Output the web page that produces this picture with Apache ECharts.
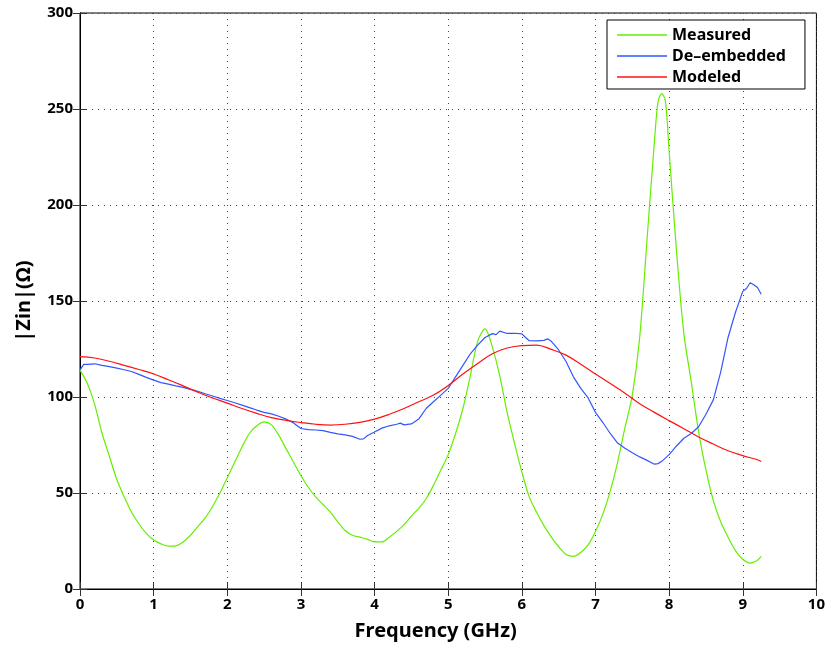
<!DOCTYPE html>
<html>
<head>
<meta charset="utf-8">
<script src="https://cdn.jsdelivr.net/npm/echarts@6/dist/echarts.min.js"></script>
<style>
  html, body { margin: 0; padding: 0; background: #fff; }
  #chart { width: 828px; height: 646px; }
</style>
</head>
<body>
<div id="chart"></div>
<script>
// Measured |Zin| (green)
var freqMeasured = [0, 0.1, 0.2, 0.3, 0.4, 0.5, 0.6, 0.7, 0.8, 0.9,
  1.0, 1.1, 1.2, 1.3, 1.4, 1.5, 1.6, 1.7, 1.8, 1.9,
  2.0, 2.1, 2.2, 2.3, 2.4, 2.5, 2.6, 2.7, 2.8, 2.9,
  3.0, 3.1, 3.2, 3.3, 3.4, 3.5, 3.6, 3.7, 3.8, 3.9,
  4.0, 4.1, 4.2, 4.3, 4.4, 4.5, 4.6, 4.7, 4.8, 4.9,
  5.0, 5.1, 5.2, 5.3, 5.4, 5.5, 5.6, 5.7, 5.8, 5.9,
  6.0, 6.1, 6.2, 6.3, 6.4, 6.5, 6.6, 6.7, 6.8, 6.9,
  7.0, 7.1, 7.2, 7.3, 7.4, 7.5, 7.6, 7.7, 7.8, 7.85, 7.9, 7.95,
  8.0, 8.1, 8.2, 8.3, 8.4, 8.5, 8.6, 8.7, 8.8, 8.9,
  9.0, 9.1, 9.2, 9.25];
var measured = [114, 107, 96, 81, 69, 57, 48, 40, 34, 29,
  25.5, 23.5, 22.3, 22.5, 24.5, 28, 32.5, 37, 43, 50,
  58, 66, 74, 81, 85, 87, 85.5, 80, 73, 66,
  59, 53, 48, 44, 40, 35, 30.5, 28, 27, 26,
  24.5, 24.5, 27, 30, 33.5, 38, 42, 47, 54, 62,
  70, 81, 94, 111, 129, 135.5, 126, 111, 92, 76,
  61, 48, 40, 33, 27, 22, 18, 17, 19, 23,
  30, 39, 51, 66, 84, 101, 131, 182, 233, 254, 258, 254,
  228, 176, 133, 108, 82, 62, 46, 35, 27, 20,
  15.5, 13.5, 15, 17];

// De-embedded |Zin| (blue)
var freqDeembedded = [0, 0.05, 0.1, 0.2, 0.3, 0.4, 0.5, 0.6, 0.7, 0.8, 0.9,
  1.0, 1.1, 1.2, 1.3, 1.4, 1.5, 1.6, 1.7, 1.8, 1.9,
  2.0, 2.1, 2.2, 2.3, 2.4, 2.5, 2.6, 2.7, 2.8, 2.9,
  3.0, 3.1, 3.2, 3.3, 3.4, 3.5, 3.6, 3.7, 3.8, 3.85, 3.9,
  4.0, 4.1, 4.2, 4.3, 4.35, 4.4, 4.5, 4.6, 4.7, 4.8, 4.9,
  5.0, 5.1, 5.2, 5.3, 5.4, 5.5, 5.6, 5.65, 5.7, 5.8, 5.9,
  6.0, 6.05, 6.1, 6.2, 6.3, 6.35, 6.4, 6.5, 6.6, 6.7, 6.8, 6.9,
  7.0, 7.1, 7.2, 7.3, 7.4, 7.5, 7.6, 7.7, 7.8, 7.85, 7.9,
  8.0, 8.1, 8.2, 8.3, 8.4, 8.5, 8.6, 8.7, 8.8, 8.9,
  9.0, 9.05, 9.1, 9.15, 9.2, 9.25];
var deembedded = [114, 117, 117, 117.3, 116.5, 115.8, 115, 114.2, 113.3, 111.8, 110.2,
  108.8, 107.5, 106.7, 105.8, 105, 104, 103, 101.7, 100.5, 99.3,
  98.2, 97, 95.8, 94.5, 93.2, 92, 91.2, 90, 88.5, 86.5,
  83.6, 83, 82.8, 82.5, 81.6, 80.8, 80.3, 79.5, 78, 78.2, 79.8,
  81.8, 83.8, 85, 85.8, 86.4, 85.5, 86, 88.5, 94, 97.5, 101,
  104.5, 110.5, 116.5, 122.5, 127, 131, 133, 132.5, 134.3, 133.1, 133.2,
  132.9, 131, 129.3, 129.2, 129.5, 130.3, 129, 124.5, 118.5, 110.5, 104.5, 99.5,
  92, 86.7, 81, 76, 73.3, 71, 68.8, 67, 65, 65.3, 66.5,
  70, 74.5, 78.5, 81, 84.5, 91, 98.5, 113, 131, 144,
  155, 156.5, 159.5, 158.5, 157, 153.5];

// Modeled |Zin| (red)
var freqModeled = [0, 0.2, 0.4, 0.6, 0.8, 1.0, 1.2, 1.4, 1.6, 1.8,
  2.0, 2.2, 2.4, 2.6, 2.8, 3.0, 3.2, 3.4, 3.6, 3.8,
  4.0, 4.2, 4.4, 4.6, 4.8, 5.0, 5.2, 5.4, 5.6, 5.8,
  6.0, 6.2, 6.4, 6.6, 6.8, 7.0, 7.2, 7.4, 7.6, 7.8,
  8.0, 8.2, 8.4, 8.6, 8.8, 9.0, 9.2, 9.25];
var modeled = [121, 120.3, 118.6, 116.5, 114.3, 112, 109, 105.8, 102.5, 99.5,
  96.8, 94, 91.5, 89.3, 87.8, 86.7, 85.8, 85.4, 85.8, 86.8,
  88.5, 91, 94, 97.5, 101, 106, 112, 117.5, 122.5, 125.5,
  126.8, 127, 124.8, 121.8, 117, 112, 107, 102, 96.5, 92,
  87.7, 83.5, 79.2, 75.5, 72, 69.5, 67.3, 66.4];

var seriesNames = ['Measured', 'De\u2013embedded', 'Modeled'];
var seriesColors = ['#66ee00', '#3355ff', '#ff1111'];

function pairs(xs, ys) {
  var out = [];
  for (var i = 0; i < xs.length; i++) {
    out.push([xs[i], ys[i]]);
  }
  return out;
}

var fontFamily = 'Noto Sans, sans-serif';
var gridLine = { show: true, lineStyle: { color: '#444', type: [1, 5], width: 1 } };

var option = {
  animation: false,
  backgroundColor: '#fff',
  grid: {
    left: 80, right: 11, top: 13, bottom: 56,
    show: true, borderColor: '#000', borderWidth: 1
  },
  legend: {
    data: seriesNames,
    orient: 'vertical',
    left: 607, top: 20,
    padding: [7, 19, 4, 10],
    icon: 'rect',
    itemWidth: 50, itemHeight: 1.3, itemGap: 5,
    backgroundColor: '#fff',
    borderColor: '#000', borderWidth: 1,
    textStyle: { fontFamily: fontFamily, fontSize: 16, fontWeight: 'bold', color: '#000', lineHeight: 16 }
  },
  xAxis: [{
    type: 'value', min: 0, max: 10, interval: 1,
    name: 'Frequency (GHz)', nameLocation: 'middle', nameGap: 32,
    nameTextStyle: { fontFamily: fontFamily, fontSize: 20, fontWeight: 'bold', color: '#000', padding: [0, 25, 0, 0] },
    axisLine: { lineStyle: { color: '#000', width: 1 } },
    axisTick: { inside: true, length: 7, lineStyle: { color: '#333' } },
    axisLabel: { fontFamily: fontFamily, fontSize: 15, fontWeight: 'bold', color: '#000', margin: 8 },
    splitLine: gridLine
  }, {
    type: 'value', min: 0, max: 10, interval: 1, position: 'top',
    axisLine: { lineStyle: { color: '#000' } },
    axisTick: { inside: true, length: 7, lineStyle: { color: '#333' } },
    axisLabel: { show: false },
    splitLine: { show: false }
  }],
  yAxis: [{
    type: 'value', min: 0, max: 300, interval: 50,
    name: '|Zin|(\u03a9)', nameLocation: 'middle', nameGap: 46,
    nameTextStyle: { fontFamily: fontFamily, fontSize: 20, fontWeight: 'bold', color: '#000' },
    axisLine: { show: true, lineStyle: { color: '#000', width: 1 } },
    axisTick: { show: true, inside: true, length: 7, lineStyle: { color: '#333' } },
    axisLabel: { fontFamily: fontFamily, fontSize: 15, fontWeight: 'bold', color: '#000', margin: 7 },
    splitLine: gridLine
  }, {
    type: 'value', min: 0, max: 300, interval: 50, position: 'right',
    axisLine: { show: true, lineStyle: { color: '#000' } },
    axisTick: { show: true, inside: true, length: 7, lineStyle: { color: '#333' } },
    axisLabel: { show: false },
    splitLine: { show: false }
  }],
  series: [
    {
      name: seriesNames[0], type: 'line', symbol: 'none', smooth: 0.3,
      data: pairs(freqMeasured, measured),
      lineStyle: { color: seriesColors[0], width: 1.2 },
      itemStyle: { color: seriesColors[0] }
    },
    {
      name: seriesNames[1], type: 'line', symbol: 'none',
      data: pairs(freqDeembedded, deembedded),
      lineStyle: { color: seriesColors[1], width: 1.2 },
      itemStyle: { color: seriesColors[1] }
    },
    {
      name: seriesNames[2], type: 'line', symbol: 'none', smooth: 0.4,
      data: pairs(freqModeled, modeled),
      lineStyle: { color: seriesColors[2], width: 1.2 },
      itemStyle: { color: seriesColors[2] }
    }
  ]
};

var chart = echarts.init(document.getElementById('chart'));
chart.setOption(option);
</script>
</body>
</html>
